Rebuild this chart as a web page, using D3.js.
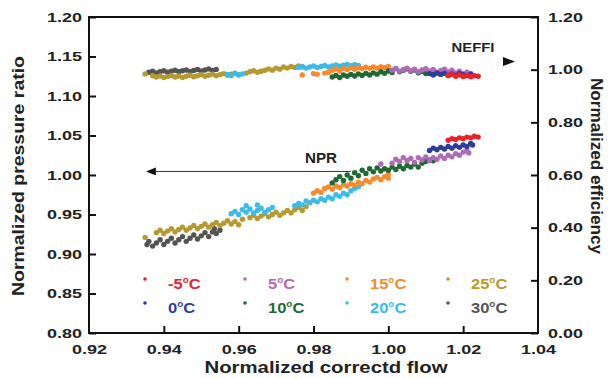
<!DOCTYPE html>
<html>
<head>
<meta charset="utf-8">
<script src="https://cdn.jsdelivr.net/npm/d3@7"></script>
<style>
  body { margin: 0; background: #fff; }
  svg { display: block; font-family: "Liberation Sans", Arial, sans-serif; }
  .tick text { font-size: 13.5px; font-weight: bold; fill: #222; }
  .tick line { stroke: #111; stroke-width: 2; }
</style>
</head>
<body>
<svg id="chart" width="611" height="379"></svg>
<script>
// temperatures, plotted in this order (30 C at the back, -5 C on top)
const temps = ['30', '25', '20', '15', '10', '5', '0', '-5'];
const colors = {
  '-5': '#e8232b', '0': '#2e3c9e', '5': '#ae6bb8', '10': '#1f6a34',
  '15': '#f58b2c', '20': '#3cbbea', '25': '#b49a30', '30': '#545454'
};

const xTicks = [0.92, 0.94, 0.96, 0.98, 1.00, 1.02, 1.04];
const yLeftTicks = [0.80, 0.85, 0.90, 0.95, 1.00, 1.05, 1.10, 1.15, 1.20];
const yRightTicks = [0.00, 0.20, 0.40, 0.60, 0.80, 1.00, 1.20];

// normalized pressure ratio [flow, npr]
const npr = {
  '30': [[0.9355,0.912],[0.936,0.916],[0.937,0.910],[0.938,0.914],[0.939,0.918],[0.940,0.912],[0.941,0.916],[0.942,0.920],[0.943,0.914],[0.944,0.918],[0.945,0.922],[0.946,0.916],[0.947,0.920],[0.948,0.924],[0.949,0.919],[0.950,0.923],[0.951,0.927],[0.952,0.922],[0.953,0.928],[0.9535,0.932],[0.954,0.926],[0.955,0.930]],
  '25': [[0.935,0.921],[0.938,0.927],[0.939,0.930],[0.940,0.926],[0.941,0.929],[0.942,0.932],[0.943,0.928],[0.944,0.931],[0.945,0.934],[0.946,0.930],[0.947,0.933],[0.948,0.936],[0.949,0.932],[0.950,0.935],[0.951,0.938],[0.952,0.934],[0.953,0.937],[0.954,0.940],[0.955,0.936],[0.956,0.939],[0.957,0.942],[0.958,0.938],[0.959,0.941],[0.960,0.937],[0.961,0.944],[0.963,0.946],[0.964,0.949],[0.965,0.945],[0.966,0.948],[0.967,0.951],[0.968,0.947],[0.969,0.950],[0.970,0.953],[0.971,0.949],[0.972,0.952],[0.973,0.955],[0.974,0.952],[0.975,0.956],[0.976,0.959],[0.977,0.955],[0.978,0.960]],
  '20': [[0.958,0.951],[0.959,0.954],[0.960,0.950],[0.961,0.956],[0.962,0.961],[0.962,0.953],[0.963,0.957],[0.964,0.952],[0.965,0.962],[0.965,0.955],[0.966,0.958],[0.967,0.953],[0.968,0.956],[0.969,0.959],[0.975,0.961],[0.976,0.964],[0.977,0.962],[0.978,0.967],[0.979,0.965],[0.980,0.968],[0.981,0.966],[0.982,0.970],[0.983,0.968],[0.984,0.972],[0.985,0.970],[0.986,0.975],[0.987,0.973],[0.988,0.977],[0.989,0.975],[0.990,0.980],[0.991,0.983],[0.992,0.985]],
  '15': [[0.980,0.977],[0.981,0.980],[0.982,0.978],[0.983,0.983],[0.984,0.985],[0.985,0.982],[0.986,0.986],[0.987,0.984],[0.988,0.988],[0.989,0.986],[0.990,0.989],[0.991,0.987],[0.992,0.991],[0.993,0.989],[0.994,0.993],[0.995,0.991],[0.996,0.995],[0.997,0.997],[0.998,0.994],[0.999,0.998],[1.000,1.001],[1.000,0.996]],
  '10': [[0.985,0.990],[0.986,0.994],[0.987,0.998],[0.988,0.993],[0.989,1.000],[0.990,0.996],[0.991,1.003],[0.992,0.999],[0.993,1.006],[0.994,1.002],[0.995,1.008],[0.996,1.004],[0.997,1.009],[0.998,1.005],[0.999,1.008],[1.000,1.006],[1.001,1.010],[1.002,1.007],[1.003,1.011],[1.004,1.008],[1.005,1.012],[1.006,1.010],[1.007,1.014],[1.008,1.010],[1.009,1.015],[1.010,1.017],[1.011,1.019],[1.012,1.018]],
  '5': [[0.998,1.014],[1.001,1.015],[1.002,1.020],[1.003,1.017],[1.004,1.022],[1.005,1.018],[1.006,1.021],[1.007,1.016],[1.008,1.022],[1.009,1.019],[1.010,1.023],[1.011,1.018],[1.012,1.022],[1.013,1.020],[1.014,1.024],[1.015,1.021],[1.016,1.025],[1.017,1.023],[1.018,1.027],[1.019,1.025],[1.020,1.029],[1.021,1.031],[1.0215,1.028]],
  '0': [[1.011,1.031],[1.012,1.034],[1.013,1.032],[1.014,1.035],[1.015,1.033],[1.016,1.036],[1.017,1.034],[1.018,1.037],[1.019,1.035],[1.020,1.038],[1.021,1.036],[1.022,1.040],[1.0225,1.038]],
  '-5': [[1.016,1.044],[1.017,1.046],[1.018,1.045],[1.019,1.047],[1.020,1.046],[1.021,1.048],[1.022,1.047],[1.023,1.049],[1.024,1.048]]
};

// normalized efficiency [flow, eff] (right axis)
const eff = {
  '30': [[0.936,0.990],[0.937,0.994],[0.938,0.988],[0.939,0.992],[0.940,0.996],[0.941,0.990],[0.942,0.994],[0.943,0.998],[0.944,0.992],[0.945,0.996],[0.946,0.999],[0.947,0.993],[0.948,0.997],[0.949,1.001],[0.950,0.995],[0.951,0.999],[0.952,1.003],[0.953,0.997],[0.954,1.001]],
  '25': [[0.935,0.984],[0.937,0.977],[0.938,0.972],[0.939,0.976],[0.940,0.970],[0.941,0.974],[0.942,0.978],[0.943,0.972],[0.944,0.976],[0.945,0.970],[0.946,0.975],[0.947,0.979],[0.948,0.973],[0.949,0.977],[0.950,0.981],[0.951,0.975],[0.952,0.979],[0.953,0.983],[0.954,0.977],[0.955,0.981],[0.956,0.985],[0.957,0.979],[0.958,0.983],[0.959,0.987],[0.960,0.981],[0.962,0.987],[0.963,0.992],[0.964,0.996],[0.965,0.990],[0.966,0.994],[0.967,0.998],[0.968,1.003],[0.969,0.998],[0.970,1.006],[0.971,1.002],[0.972,1.010],[0.973,1.006],[0.974,1.012],[0.975,1.008],[0.976,1.014],[0.977,1.010]],
  '20': [[0.957,0.982],[0.958,0.978],[0.959,0.986],[0.960,0.980],[0.961,0.984],[0.976,1.008],[0.977,1.012],[0.978,1.006],[0.979,1.010],[0.980,1.014],[0.981,1.008],[0.982,1.012],[0.983,1.016],[0.984,1.010],[0.985,1.014],[0.986,1.018],[0.987,1.013],[0.988,1.017],[0.989,1.020],[0.990,1.015],[0.991,1.019],[0.992,1.016]],
  '15': [[0.977,0.980],[0.980,0.985],[0.981,0.983],[0.983,0.987],[0.984,0.990],[0.985,0.998],[0.986,1.003],[0.987,0.995],[0.988,1.005],[0.989,1.000],[0.990,1.007],[0.991,1.002],[0.992,1.008],[0.993,1.004],[0.994,1.009],[0.995,1.005],[0.996,1.010],[0.997,1.006],[0.998,1.011],[0.999,1.007],[1.000,1.012]],
  '10': [[0.985,0.972],[0.986,0.978],[0.987,0.970],[0.988,0.980],[0.989,0.975],[0.990,0.982],[0.991,0.976],[0.992,0.984],[0.993,0.978],[0.994,0.986],[0.995,0.980],[0.996,0.988],[0.997,0.983],[0.998,0.992],[0.999,0.986],[1.000,0.995],[1.001,0.989],[1.002,1.004],[1.003,0.992],[1.004,0.998],[1.005,1.003],[1.006,0.994],[1.007,0.999],[1.008,0.988],[1.009,0.994],[1.010,0.985],[1.011,0.990],[1.012,0.982],[1.013,0.987]],
  '5': [[1.001,0.998],[1.002,1.004],[1.003,0.994],[1.004,1.001],[1.005,1.006],[1.006,0.996],[1.007,1.002],[1.008,0.992],[1.009,0.999],[1.010,1.004],[1.011,0.995],[1.012,1.001],[1.013,0.990],[1.014,0.997],[1.015,1.002],[1.016,0.992],[1.017,0.998],[1.018,0.988],[1.019,0.994],[1.020,0.985],[1.021,0.990],[1.022,0.986]],
  '0': [[1.011,0.985],[1.012,0.980],[1.013,0.988],[1.014,0.982],[1.015,0.986],[1.016,0.978],[1.017,0.984],[1.018,0.979],[1.019,0.986],[1.020,0.981],[1.021,0.977],[1.022,0.983]],
  '-5': [[1.016,0.978],[1.017,0.982],[1.018,0.975],[1.019,0.980],[1.020,0.974],[1.021,0.979],[1.022,0.973],[1.023,0.977],[1.024,0.975]]
};

// legend layout: two rows, four columns
const legendOrder = [['-5', '5', '15', '25'], ['0', '10', '20', '30']];

const svg = d3.select('#chart');
const plotLeft = 89, plotRight = 538, plotTop = 17, plotBottom = 333;

const x = d3.scaleLinear().domain([0.92, 1.04]).range([plotLeft, plotRight]);
const yL = d3.scaleLinear().domain([0.80, 1.20]).range([plotBottom, plotTop]);
const yR = d3.scaleLinear().domain([0, 1.2]).range([plotBottom, plotTop]);
const fmt = d3.format('.2f');

// the source figure's lettering is stretched sideways
const widen = sel => sel.attr('textLength', 35).attr('lengthAdjust', 'spacingAndGlyphs');

// axes with inward ticks
svg.append('g')
  .attr('transform', `translate(0,${plotBottom})`)
  .call(d3.axisBottom(x).tickValues(xTicks).tickFormat(fmt).tickSizeInner(-7).tickSizeOuter(0).tickPadding(11))
  .call(g => g.select('.domain').remove())
  .call(g => g.selectAll('.tick').filter(d => d === 0.92 || d === 1.04).select('line').remove())
  .call(g => widen(g.selectAll('text')));

svg.append('g')
  .attr('transform', `translate(${plotLeft},0)`)
  .call(d3.axisLeft(yL).tickValues(yLeftTicks).tickFormat(fmt).tickSizeInner(-7).tickSizeOuter(0).tickPadding(7))
  .call(g => g.select('.domain').remove())
  .call(g => widen(g.selectAll('text')));

svg.append('g')
  .attr('transform', `translate(${plotRight},0)`)
  .call(d3.axisRight(yR).tickValues(yRightTicks).tickFormat(fmt).tickSizeInner(-7).tickSizeOuter(0).tickPadding(10))
  .call(g => g.select('.domain').remove())
  .call(g => widen(g.selectAll('text')));

svg.append('rect')
  .attr('x', plotLeft).attr('y', plotTop)
  .attr('width', plotRight - plotLeft).attr('height', plotBottom - plotTop)
  .attr('fill', 'none').attr('stroke', '#111').attr('stroke-width', 2);

// scatter points
const pts = svg.append('g');
temps.forEach(t => {
  pts.append('g').selectAll('circle').data(eff[t]).enter().append('circle')
    .attr('cx', d => x(d[0])).attr('cy', d => yR(d[1])).attr('r', 2.7)
    .attr('fill', colors[t]);
});
temps.forEach(t => {
  pts.append('g').selectAll('circle').data(npr[t]).enter().append('circle')
    .attr('cx', d => x(d[0])).attr('cy', d => yL(d[1])).attr('r', 2.7)
    .attr('fill', colors[t]);
});

// annotations
svg.append('defs').append('marker')
  .attr('id', 'head').attr('viewBox', '0 0 10 8')
  .attr('refX', 1).attr('refY', 4)
  .attr('markerWidth', 10).attr('markerHeight', 8)
  .attr('markerUnits', 'userSpaceOnUse')
  .attr('orient', 'auto')
  .append('path').attr('d', 'M0,0 L10,4 L0,8 Z').attr('fill', '#111');

svg.append('line')
  .attr('x1', x(0.9900)).attr('x2', x(0.9376))
  .attr('y1', yL(1.0045)).attr('y2', yL(1.0045))
  .attr('stroke', '#333').attr('stroke-width', 1)
  .attr('marker-end', 'url(#head)');
svg.append('text').attr('x', 321).attr('y', 163)
  .attr('text-anchor', 'middle').attr('font-size', 14).attr('font-weight', 'bold')
  .attr('textLength', 32).attr('lengthAdjust', 'spacingAndGlyphs')
  .attr('fill', '#222').text('NPR');

svg.append('text').attr('x', 473).attr('y', 52)
  .attr('text-anchor', 'middle').attr('font-size', 13.5).attr('font-weight', 'bold')
  .attr('textLength', 43).attr('lengthAdjust', 'spacingAndGlyphs')
  .attr('fill', '#222').text('NEFFI');
svg.append('path')
  .attr('d', 'M503,57 L515,61.5 L503,66 Z').attr('fill', '#111');

// legend
const colX = [145, 245, 347, 448];
const rowY = [279, 303];
legendOrder.forEach((row, ri) => {
  row.forEach((t, ci) => {
    svg.append('circle').attr('cx', colX[ci]).attr('cy', rowY[ri]).attr('r', 1.8).attr('fill', colors[t]);
    const txt = svg.append('text')
      .attr('x', colX[ci] + 23).attr('y', rowY[ri] + 9.5)
      .attr('font-size', 15).attr('font-weight', 'bold').attr('fill', colors[t]);
    txt.append('tspan').text(t);
    txt.append('tspan').attr('font-size', 9).attr('dy', -6).text('o');
    txt.append('tspan').attr('dy', 6).text('C');
    const w = txt.node().getComputedTextLength();
    txt.attr('textLength', w * 1.1).attr('lengthAdjust', 'spacingAndGlyphs');
  });
});

// axis titles
svg.append('text')
  .attr('transform', 'translate(24,176) rotate(-90)')
  .attr('text-anchor', 'middle').attr('font-size', 16).attr('font-weight', 'bold')
  .attr('textLength', 240).attr('lengthAdjust', 'spacingAndGlyphs')
  .attr('fill', '#222').text('Normalized pressure ratio');

svg.append('text')
  .attr('transform', 'translate(591,166) rotate(90)')
  .attr('text-anchor', 'middle').attr('font-size', 16).attr('font-weight', 'bold')
  .attr('textLength', 176).attr('lengthAdjust', 'spacingAndGlyphs')
  .attr('fill', '#222').text('Normalized efficiency');

svg.append('text')
  .attr('x', 326).attr('y', 373)
  .attr('text-anchor', 'middle').attr('font-size', 16).attr('font-weight', 'bold')
  .attr('textLength', 243).attr('lengthAdjust', 'spacingAndGlyphs')
  .attr('fill', '#222').text('Normalized correctd flow');
</script>
</body>
</html>
